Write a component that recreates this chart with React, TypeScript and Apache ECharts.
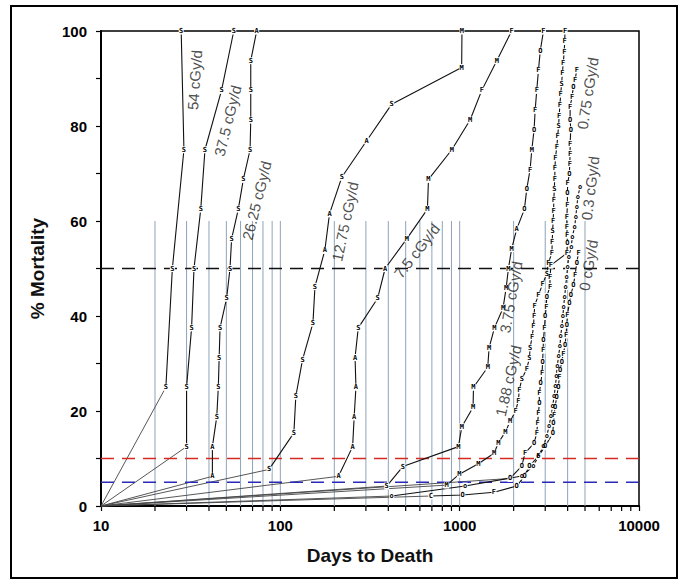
import React, { useEffect, useRef } from 'react';
import * as echarts from 'echarts';

// ---------- axis / reference data ----------
const xMinDays = 10;
const xMaxDays = 10000;
const minorTickDays = [20, 30, 40, 50, 60, 70, 80, 90, 200, 300, 400, 500, 600, 700, 800, 900, 2000, 3000, 4000, 5000, 6000, 7000, 8000, 9000];
const gridLineDays = [20, 30, 40, 50, 60, 70, 80, 90, 100, 200, 300, 400, 500, 600, 700, 800, 900, 1000, 2000, 3000, 4000, 5000];
const gridLineTop = 60;
const refLevels = [50, 10, 5];

// ---------- dose-rate curves (days to death, cumulative % mortality, marker letter) ----------
const days54 = [10, 23, 25, 29, 28];
const mort54 = [0, 25, 50, 75, 100];
const mark54 = '_SSSS';

const days37 = [10, 30, 30, 32, 33, 36, 38, 47, 55];
const mort37 = [0, 12.5, 25, 37.5, 50, 62.5, 75, 87.5, 100];
const mark37 = '_SSSSSSSS';

const days26 = [10, 41.8, 41.8, 44.2, 45.1, 45.6, 46.1, 50.2, 52.4, 53.5, 58.3, 62.2, 67.8, 68.4, 68.4, 68.4, 73.8];
const mort26 = [0, 6.25, 12.5, 18.75, 25, 31.25, 37.5, 43.75, 50, 56.25, 62.5, 68.75, 75, 81.25, 87.5, 93.75, 100];
const mark26 = '_AASSSSSSSSSSSSSA';

const days12 = [10, 86.5, 119, 122, 133, 152, 156, 177, 188, 220, 303, 418, 1026, 1030];
const mort12 = [0, 7.7, 15.4, 23.1, 30.8, 38.5, 46.2, 53.8, 61.5, 69.2, 76.9, 84.6, 92.3, 100];
const mark12 = '_SSSSSSAASASMM';

const days75 = [10, 211, 253, 258, 264, 261, 272, 349, 384, 507, 661, 670, 904, 1143, 1328, 1610, 1950];
const mort75 = [0, 6.25, 12.5, 18.75, 25, 31.25, 37.5, 43.75, 50, 56.25, 62.5, 68.75, 75, 81.25, 87.5, 93.75, 100];
const mark75 = '_AAAAASSAMMMMMFMF';

const days375 = [10, 392, 482, 984, 1028, 1188, 1194, 1434, 1459, 1563, 1746, 1815, 1870, 1950, 2080, 2297, 2366, 2470, 2525, 2600, 2636, 2690, 2749, 2815, 2933];
const mort375 = [0, 4.2, 8.3, 12.5, 16.7, 20.8, 25, 29.2, 33.3, 37.5, 41.7, 45.8, 50, 54.2, 58.3, 62.5, 66.7, 70.8, 75, 79.2, 83.3, 87.5, 91.7, 95.8, 100];
const mark375 = '_SSMMMMMMMMMMMAOOFMOFFFOF';

const days188 = [10, 847, 996, 1271, 1556, 1644, 1800, 1910, 2050, 2125, 2150, 2220, 2366, 2449, 2470, 2535, 2580, 2600, 2620, 2750, 2900, 3060, 3120, 3270, 3280, 3300, 3320, 3340, 3350, 3370, 3390, 3400, 3420, 3480, 3520, 3560, 3590, 3620, 3660, 3700, 3740, 3780, 3830, 3850, 3870];
const mort188 = [0, 4.4, 6.7, 8.9, 11.1, 13.3, 15.6, 17.8, 20, 22.2, 24.4, 26.7, 28.9, 31.1, 33.3, 35.6, 37.8, 40, 42.2, 44.4, 46.7, 48.9, 51.1, 53.3, 55.6, 57.8, 60, 62.2, 64.4, 66.7, 68.9, 71.1, 73.3, 75.6, 77.8, 80, 82.2, 84.4, 86.7, 88.9, 91.1, 93.3, 95.6, 97.8, 100];
const mark188 = '_MMMMMMMFFFSFSSFFFFFFSFFFSFFFSFFFFFSFFFSFFFFF';

const days075 = [10, 1910, 2220, 2316, 2600, 2690, 2720, 2750, 2780, 2780, 2830, 2880, 2900, 2920, 2930, 2970, 3000, 3040, 3060, 3190, 3190, 3230, 3955, 3987, 3970, 3955, 3960, 3987, 3990, 4000, 4092, 4110, 4129, 4129, 4165, 4129, 4129, 4236, 4306, 4403, 4497];
const mort075 = [0, 5.8, 8.4, 11.2, 13.2, 15.4, 17.4, 19.5, 21.6, 23.7, 25.8, 27.9, 30.4, 32.8, 34.9, 37.4, 39.9, 42, 44.1, 46.2, 48.3, 50.7, 53.2, 55.3, 57, 58.8, 60.9, 63.4, 65.8, 67.9, 70, 72.1, 74.2, 76.3, 79.2, 81.3, 84.1, 86.2, 88.3, 89.7, 91.8];
const mark075 = '_OOFOFFFOFOFOFOFOFOFFFFOFFFFOFOFFFOOFFOFF';

const days03 = [10, 418, 1072, 2220, 2578, 2748, 2930, 3060, 3150, 3230, 3300, 3360, 3420, 3460, 3500, 3560, 3620, 3660, 3710, 3760, 3800, 3850, 3900, 3950, 4000, 4060, 4190, 4250, 4380, 4440, 4500, 4560, 4690];
const mort03 = [0, 2.1, 4.2, 6.3, 8.4, 10.5, 12.6, 14.7, 16.8, 18.9, 21, 23.1, 25.2, 27.3, 29.4, 31.5, 33.6, 35.7, 37.8, 39.9, 42, 44.1, 46.2, 48.3, 50.4, 52.5, 54.6, 56.7, 58.8, 60.9, 63, 65.1, 67.2];
const mark03 = '_oooooooooooooooooooooooooooooooo';

const days0 = [10, 690, 1040, 1553, 2080, 2300, 2450, 2750, 3000, 3306, 3333, 3365, 3404, 3477, 3550, 3600, 3631, 3710, 3788, 3870, 3920, 3955, 3987, 4092, 4165, 4306, 4403, 4497, 4600];
const mort0 = [0, 2.1, 2.3, 2.9, 4.2, 6.3, 8.4, 10.5, 12.6, 15.3, 17.4, 19.2, 20.9, 23, 25.1, 27.2, 28.6, 30.4, 32.1, 33.9, 36, 38.1, 40.2, 42.7, 44.4, 46.5, 48.6, 51.2, 53.3];
const mark0 = '_COFOOOFOOOFOOOFOOFOFOFOOOFOF';

const curveNames = ['54 cGy/d', '37.5 cGy/d', '26.25 cGy/d', '12.75 cGy/d', '7.5 cGy/d', '3.75 cGy/d', '1.88 cGy/d', '0.75 cGy/d', '0.3 cGy/d', '0 cGy/d'];

// label anchors (days, % mortality) and angles for the rotated curve captions
const captionDays = [33.3, 50.8, 73.8, 229.5, 577, 1932, 1870, 5170, 5340, 5220];
const captionMort = [89.7, 81.1, 64.3, 59.9, 53.7, 44, 26.4, 86.9, 66.9, 50.7];
const captionAngle = [86, 76, 76, 78, 52, 80, 77, 81, 83, 80];

const FONT = '"Liberation Sans", Arial, Helvetica, sans-serif';

function curveSeries(name: string, days: number[], mort: number[], marks: string) {
  const pts = days.map((d, i) => [d, mort[i]]);
  const fan = {
    type: 'line',
    name: name + ' start',
    data: [pts[0], pts[1]],
    symbol: 'none',
    clip: false,
    silent: true,
    z: 3,
    lineStyle: { color: '#444', width: 0.9 },
  };
  const body = {
    type: 'line',
    name,
    clip: false,
    silent: true,
    z: 5,
    showAllSymbol: true,
    color: '#111',
    data: pts.slice(1).map((p, i) => ({
      name: marks[i + 1] || 'F',
      value: p,
    })),
    symbol: 'rect',
    symbolSize: [5, 7],
    itemStyle: { color: '#fff', borderColor: '#fff', borderWidth: 0 },
    lineStyle: { color: '#111', width: 1.1 },
    label: {
      show: true,
      position: 'inside',
      formatter: '{b}',
      fontSize: 7,
      fontWeight: 'bold',
      fontFamily: '"DejaVu Sans Mono", monospace',
      color: '#000',
      textBorderWidth: 0,
      textBorderColor: 'transparent',
    },
    emphasis: { disabled: true },
  };
  return [fan, body];
}

function buildOption() {
  const curves: any[] = [
    ...curveSeries(curveNames[0], days54, mort54, mark54),
    ...curveSeries(curveNames[1], days37, mort37, mark37),
    ...curveSeries(curveNames[2], days26, mort26, mark26),
    ...curveSeries(curveNames[3], days12, mort12, mark12),
    ...curveSeries(curveNames[4], days75, mort75, mark75),
    ...curveSeries(curveNames[5], days375, mort375, mark375),
    ...curveSeries(curveNames[6], days188, mort188, mark188),
    ...curveSeries(curveNames[7], days075, mort075, mark075),
    ...curveSeries(curveNames[8], days03, mort03, mark03),
    ...curveSeries(curveNames[9], days0, mort0, mark0),
  ];
  const refColors = ['#111', '#d62a20', '#2a2ab8'];
  const refSeries = refLevels.map((lvl, i) => ({
    type: 'line',
    name: 'ref ' + lvl,
    data: [[xMinDays, lvl], [xMaxDays, lvl]],
    symbol: 'none',
    silent: true,
    z: 4,
    lineStyle: { color: refColors[i], width: 1.6, type: [13, 8] },
  }));
  const verticals = {
    type: 'custom',
    name: 'verticals',
    silent: true,
    z: 1,
    data: gridLineDays.map((d) => [d, gridLineTop]),
    renderItem: (params: any, api: any) => {
      const b = api.coord([api.value(0), 0]);
      const t = api.coord([api.value(0), api.value(1)]);
      return {
        type: 'line',
        shape: { x1: b[0], y1: b[1], x2: t[0], y2: t[1] },
        style: { stroke: '#8ea3ba', lineWidth: 1 },
      };
    },
  };
  const minorTicks = {
    type: 'custom',
    name: 'minor ticks',
    silent: true,
    clip: false,
    z: 6,
    data: minorTickDays.map((d) => [d, 0]),
    renderItem: (params: any, api: any) => {
      const p = api.coord([api.value(0), 0]);
      return {
        type: 'line',
        shape: { x1: p[0], y1: p[1], x2: p[0], y2: p[1] + 5 },
        style: { stroke: '#000', lineWidth: 1.2 },
      };
    },
  };
  const captions = {
    type: 'scatter',
    name: 'captions',
    silent: true,
    z: 7,
    symbolSize: 1,
    itemStyle: { color: 'rgba(0,0,0,0)' },
    data: curveNames.map((n, i) => ({
      name: n,
      value: [captionDays[i], captionMort[i]],
      label: { rotate: captionAngle[i] },
    })),
    label: {
      show: true,
      position: 'inside',
      formatter: '{b}',
      fontSize: 15,
      fontFamily: FONT,
      color: '#222',
      textBorderWidth: 0,
      textBorderColor: 'transparent',
    },
  };

  return {
    animation: false,
    backgroundColor: '#fff',
    grid: {
      left: 101,
      right: 41,
      top: 31,
      bottom: 78,
      show: true,
      borderColor: '#000',
      borderWidth: 1.5,
      containLabel: false,
      outerBoundsMode: 'none',
    },
    xAxis: {
      type: 'log',
      logBase: 10,
      min: xMinDays,
      max: xMaxDays,
      name: 'Days to Death',
      nameLocation: 'middle',
      nameGap: 40,
      nameTextStyle: { fontSize: 19, fontWeight: 'bold', color: '#111', fontFamily: FONT },
      axisLine: { show: true, lineStyle: { color: '#000', width: 2 } },
      axisTick: { show: true, inside: false, length: 5, lineStyle: { color: '#000', width: 1.2 } },
      axisLabel: {
        fontSize: 15,
        fontWeight: 'bold',
        color: '#000',
        fontFamily: FONT,
        margin: 12,
        formatter: (v: number) => String(Math.round(v)),
      },
      splitLine: { show: false },
      minorTick: { show: false },
    },
    yAxis: {
      type: 'value',
      min: 0,
      max: 100,
      interval: 10,
      name: '% Mortality',
      nameLocation: 'middle',
      nameGap: 54,
      nameTextStyle: { fontSize: 19, fontWeight: 'bold', color: '#111', fontFamily: FONT },
      axisLine: { show: true, lineStyle: { color: '#000', width: 2 } },
      axisTick: { show: true, inside: false, length: 5, lineStyle: { color: '#000', width: 1.2 } },
      axisLabel: {
        fontSize: 15,
        fontWeight: 'bold',
        color: '#000',
        fontFamily: FONT,
        margin: 14,
        formatter: (v: number) => (v % 20 === 0 ? String(v) : ''),
      },
      splitLine: { show: false },
    },
    graphic: [
      {
        type: 'rect',
        silent: true,
        shape: { x: 11, y: 6, width: 666, height: 572 },
        style: { fill: 'none', stroke: '#000', lineWidth: 2 },
      },
    ],
    series: [verticals, ...refSeries, ...curves, minorTicks, captions],
  };
}

export default function App() {
  const ref = useRef<HTMLDivElement>(null);
  useEffect(() => {
    document.body.style.margin = '0';
    if (!ref.current) return;
    const chart = echarts.init(ref.current, null, { renderer: 'svg' });
    chart.setOption(buildOption() as any);
    return () => chart.dispose();
  }, []);
  return <div ref={ref} style={{ width: 680, height: 584 }} />;
}
